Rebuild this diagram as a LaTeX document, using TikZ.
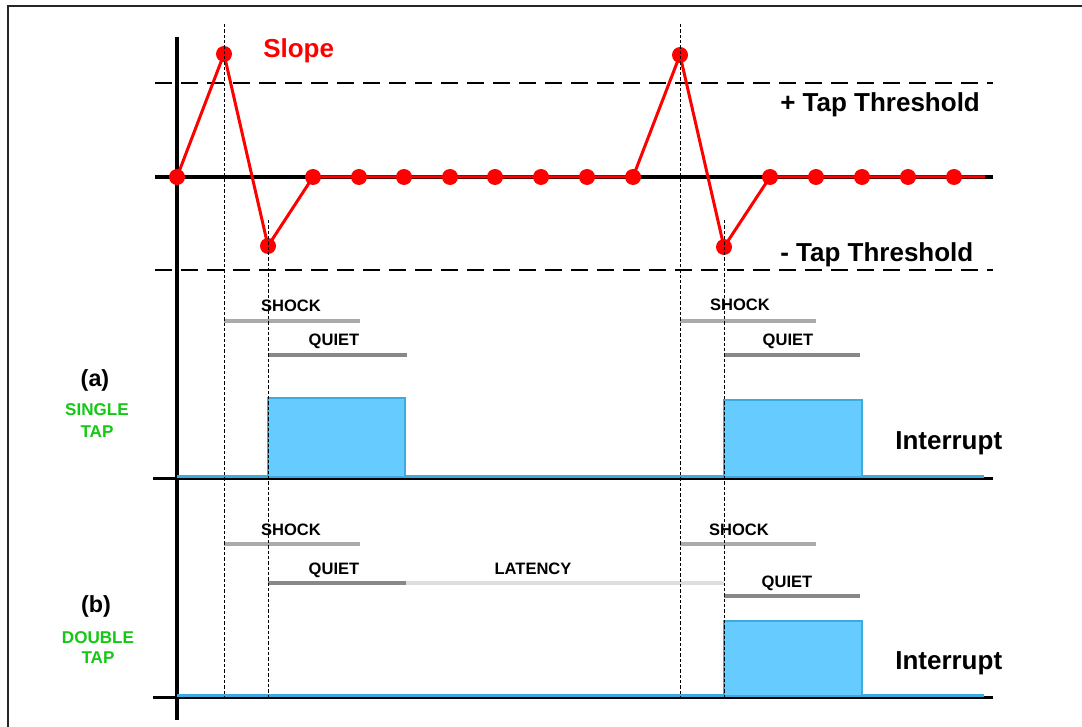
\documentclass[tikz,border=0pt]{standalone}
\usepackage{fontspec}
\setmainfont{Liberation Sans}
\definecolor{tapred}{RGB}{255,0,0}
\definecolor{shockgray}{RGB}{170,170,170}
\definecolor{quietgray}{RGB}{136,136,136}
\definecolor{latgray}{RGB}{221,221,221}
\definecolor{pulsefill}{RGB}{102,204,255}
\definecolor{pulseline}{RGB}{60,172,224}
\definecolor{tapgreen}{RGB}{20,200,20}
\begin{document}
\begin{tikzpicture}[x=0.75pt,y=-0.75pt,
 biglabel/.style={font=\fontsize{19.5}{22}\selectfont\bfseries, inner sep=0pt, anchor=base west},
 panellabel/.style={font=\fontsize{17.5}{20}\selectfont\bfseries, inner sep=0pt, anchor=base},
 modelabel/.style={font=\fontsize{12.8}{14}\selectfont\bfseries, text=tapgreen, inner sep=0pt, anchor=base},
 timelabel/.style={font=\fontsize{12.4}{14}\selectfont\bfseries, inner sep=0pt, anchor=base},
 axisline/.style={line width=2.4pt, black},
 baseline/.style={line width=1.9pt, black},
 threshold/.style={line width=1.5pt, dash pattern=on 12.5pt off 7pt},
 marker/.style={line width=0.75pt, dash pattern=on 2.5pt off 1.5pt},
 bar/.style={line width=3.2pt},
 slopeline/.style={draw=tapred, line width=2.25pt, line join=round},
 sample/.style={circle, fill=tapred, inner sep=0pt, minimum size=12pt},
 pulse/.style={fill=pulsefill, draw=pulseline, line width=1.5pt},
 signal/.style={draw=pulseline, line width=2.25pt},
]
\useasboundingbox (0,0) rectangle (1082,727);
\fill[white] (0,0) rectangle (1082,727);
% frame
\draw[black!85, line width=1.5pt] (8,735) -- (8,6) -- (1090,6);

% axes and thresholds
\draw[axisline] (177,37) -- (177,720);
\draw[axisline] (155,177) -- (993,177);
\draw[threshold] (155,83) -- (993,83);
\draw[threshold] (155,270) -- (993,270);

% slope samples
\coordinate (p0) at (177,177);
\coordinate (p1) at (224,54);
\coordinate (p2) at (268,246);
\coordinate (p3) at (313,177);
\coordinate (p4) at (359,177);
\coordinate (p5) at (404,177);
\coordinate (p6) at (450,177);
\coordinate (p7) at (495,177);
\coordinate (p8) at (541,177);
\coordinate (p9) at (587,177);
\coordinate (p10) at (633,177);
\coordinate (p11) at (680,55);
\coordinate (p12) at (724,247);
\coordinate (p13) at (770,177);
\coordinate (p14) at (816,177);
\coordinate (p15) at (862,177);
\coordinate (p16) at (908,177);
\coordinate (p17) at (954,177);
\coordinate (pend) at (985,177);
\draw[slopeline] (p0) -- (p1) -- (p2) -- (p3) -- (p4) -- (p5) -- (p6) -- (p7) -- (p8) -- (p9) -- (p10) -- (p11) -- (p12) -- (p13) -- (p14) -- (p15) -- (p16) -- (p17) -- (pend);
\foreach \i in {0,...,17} \node[sample] (s\i) at (p\i) {};

\node[biglabel, text=tapred] (slope) at (263,58) {Slope};
\node[biglabel] (pth) at (780,112) {+ Tap Threshold};
\node[biglabel] (nth) at (780,262) {- Tap Threshold};

% panel (a)
\draw[baseline] (153,478.5) -- (993,478.5);
\draw[signal] (177,476.5) -- (268,476.5);
\draw[signal] (405,476.5) -- (984,476.5);
\draw[pulse] (268,398) rectangle (405,477);
\draw[pulse] (724,400) rectangle (862,477);

\draw[bar, shockgray] (224,321) -- (360,321);
\draw[bar, quietgray] (268,355) -- (407,355);
\draw[bar, shockgray] (680,321) -- (816,321);
\draw[bar, quietgray] (724,355) -- (860,355);
\node[timelabel] (shockA1) at (291,312) {SHOCK};
\node[timelabel] (quietA1) at (334,346) {QUIET};
\node[timelabel] (shockA2) at (740,311) {SHOCK};
\node[timelabel] (quietA2) at (788,345) {QUIET};

\node[panellabel] (pa) at (95,387) {(a)};
\node[modelabel] (singleA) at (97,416) {SINGLE};
\node[modelabel] (tapA) at (97,437) {TAP};
\node[biglabel] (inta) at (895,449) {Interrupt};

% panel (b)
\draw[baseline] (153,697.5) -- (993,697.5);
\draw[signal] (177,695.5) -- (724,695.5);
\draw[signal] (862,695.5) -- (984,695.5);
\draw[pulse] (724,621) rectangle (862,696);

\draw[bar, shockgray] (224,544) -- (360,544);
\draw[bar, quietgray] (268,583) -- (406,583);
\draw[bar, latgray] (406,583) -- (724,583);
\draw[bar, shockgray] (680,544) -- (816,544);
\draw[bar, quietgray] (724,596) -- (860,596);
\node[timelabel] (shockB1) at (291,535) {SHOCK};
\node[timelabel] (quietB1) at (334,574) {QUIET};
\node[timelabel] (latB) at (533,574) {LATENCY};
\node[timelabel] (shockB2) at (739,535) {SHOCK};
\node[timelabel] (quietB2) at (787,587) {QUIET};

\node[panellabel] (pb) at (96,612) {(b)};
\node[modelabel] (doubleB) at (98,643) {DOUBLE};
\node[modelabel] (tapB) at (98,663) {TAP};
\node[biglabel] (intb) at (895,669) {Interrupt};

% event markers
\coordinate (m1t) at (224,24);  \coordinate (m1b) at (224,697);
\coordinate (m2t) at (268,220); \coordinate (m2b) at (268,697);
\coordinate (m3t) at (680,24);  \coordinate (m3b) at (680,697);
\coordinate (m4t) at (724,220); \coordinate (m4b) at (724,697);
\draw[marker] (m1t) -- (m1b);
\draw[marker] (m2t) -- (m2b);
\draw[marker] (m3t) -- (m3b);
\draw[marker] (m4t) -- (m4b);
\end{tikzpicture}
\end{document}
